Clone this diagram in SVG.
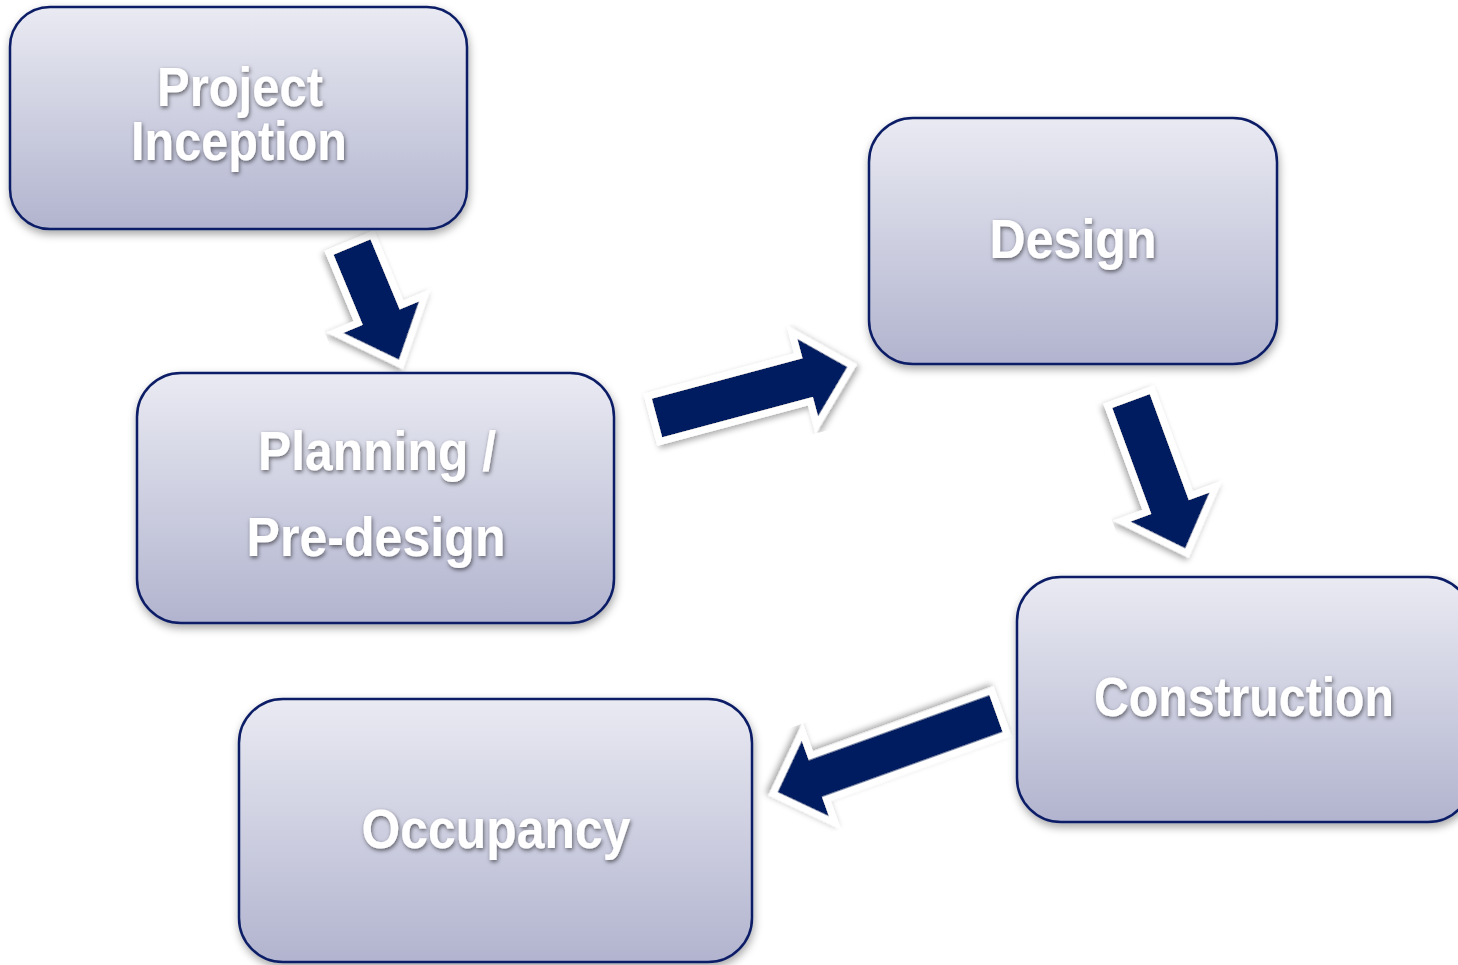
<svg xmlns="http://www.w3.org/2000/svg" width="1458" height="965" viewBox="0 0 1458 965">
<defs>
<linearGradient id="g" x1="0" y1="0" x2="0" y2="1">
<stop offset="0" stop-color="#e9eaf2"/>
<stop offset="1" stop-color="#b2b4cf"/>
</linearGradient>
<filter id="bs" x="-10%" y="-10%" width="120%" height="130%">
<feDropShadow dx="1" dy="4" stdDeviation="4" flood-color="#000" flood-opacity="0.35"/>
</filter>
<filter id="ts" x="-10%" y="-20%" width="120%" height="150%">
<feDropShadow dx="1" dy="2" stdDeviation="2" flood-color="#000" flood-opacity="0.55"/>
</filter>
<filter id="as" x="-20%" y="-20%" width="140%" height="140%">
<feDropShadow dx="2" dy="3" stdDeviation="3" flood-color="#000" flood-opacity="0.35"/>
</filter>
</defs>
<style>
.box{fill:url(#g);stroke:#0b1f66;stroke-width:2.5;filter:url(#bs)}
.lbl{font-family:"Liberation Sans",Arial,sans-serif;font-weight:bold;font-size:55px;fill:#fff;text-anchor:middle;filter:url(#ts)}
.arr{fill:#001f60;stroke:#fff;stroke-width:14;stroke-linejoin:miter;paint-order:stroke;filter:url(#as)}
</style>
<rect width="1458" height="965" fill="#fff"/>
<g id="connectors">
<polygon class="arr" transform="translate(352,247) rotate(67.4)" points="0,-20 76,-20 76,-41 122,0 76,41 76,20 0,20"/>
<polygon class="arr" transform="translate(657,418) rotate(-15)" points="0,-20 156,-20 156,-40 197,0 156,40 156,20 0,20"/>
<polygon class="arr" transform="translate(1131,401) rotate(69.8)" points="0,-20 113,-20 113,-42 157,0 113,42 113,20 0,20"/>
<polygon class="arr" transform="translate(996,713.5) rotate(160.2)" points="0,-19.5 192,-19.5 192,-40 232,0 192,40 192,19.5 0,19.5"/>
</g>
<g id="n1">
<rect class="box" x="10" y="7" width="457" height="222" rx="40"/>
<text class="lbl" x="240" y="106" textLength="166" lengthAdjust="spacingAndGlyphs">Project</text>
<text class="lbl" x="239" y="160" textLength="216" lengthAdjust="spacingAndGlyphs">Inception</text>
</g>
<g id="n2">
<rect class="box" x="137" y="373" width="477" height="250" rx="44"/>
<text class="lbl" x="377" y="470" textLength="238" lengthAdjust="spacingAndGlyphs">Planning /</text>
<text class="lbl" x="376" y="556" textLength="259" lengthAdjust="spacingAndGlyphs">Pre-design</text>
</g>
<g id="n3">
<rect class="box" x="869" y="118" width="408" height="246" rx="44"/>
<text class="lbl" x="1073" y="258" textLength="167" lengthAdjust="spacingAndGlyphs">Design</text>
</g>
<g id="n4">
<rect class="box" x="1017" y="577" width="455" height="245" rx="44"/>
<text class="lbl" x="1244" y="716" textLength="300" lengthAdjust="spacingAndGlyphs">Construction</text>
</g>
<g id="n5">
<rect class="box" x="239" y="699" width="513" height="263" rx="44"/>
<text class="lbl" x="496" y="848" textLength="269" lengthAdjust="spacingAndGlyphs">Occupancy</text>
</g>
</svg>
